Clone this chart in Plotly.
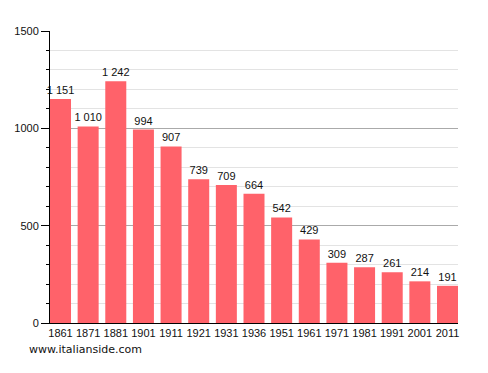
import plotly.graph_objects as go

years = ["1861", "1871", "1881", "1901", "1911", "1921", "1931", "1936",
         "1951", "1961", "1971", "1981", "1991", "2001", "2011"]
population = [1151, 1010, 1242, 994, 907, 739, 709, 664, 542, 429, 309, 287, 261, 214, 191]
y_ticks = [0, 500, 1000, 1500]

labels = [f"{v:,}".replace(",", " ") for v in population]
xpos = list(range(len(years)))

fig = go.Figure()
fig.add_trace(go.Bar(
    x=xpos, y=population, width=0.76,
    marker=dict(color="#ff626a", line=dict(width=0)),
    text=labels, textposition="outside", cliponaxis=False,
    constraintext="none", textangle=0,
    textfont=dict(family="Liberation Sans, Arial, sans-serif", size=11, color="#111"),
    hoverinfo="skip",
))

fig.update_layout(
    width=488, height=373,
    margin=dict(l=50, r=30, t=31, b=50),
    paper_bgcolor="white", plot_bgcolor="white",
    showlegend=False,
    font=dict(family="Liberation Sans, Arial, sans-serif", size=11, color="#111"),
    xaxis=dict(
        range=[-0.38, 14.38], tickmode="array", tickvals=xpos, ticktext=years,
        showgrid=False, zeroline=False, showline=True, linecolor="black", linewidth=1,
        ticks="", tickangle=0, tickfont=dict(size=11), fixedrange=True,
    ),
    yaxis=dict(
        range=[0, 1500], tickmode="array", tickvals=y_ticks,
        showgrid=True, gridcolor="#aaaaaa", gridwidth=1,
        zeroline=False, showline=True, linecolor="black", linewidth=1,
        ticks="outside", ticklen=8, tickcolor="black", tickwidth=1,
        tickfont=dict(size=11),
        minor=dict(dtick=100, showgrid=True, gridcolor="#e3e3e3", gridwidth=1,
                   ticks="outside", ticklen=3, tickcolor="black"),
    ),
    annotations=[dict(
        text="www.italianside.com", xref="paper", yref="paper",
        x=-0.056, y=-0.092, xanchor="left", yanchor="middle", showarrow=False,
        font=dict(family="DejaVu Sans, Verdana, sans-serif", size=11, color="#111"),
    )],
)

fig.write_html("out.html")
